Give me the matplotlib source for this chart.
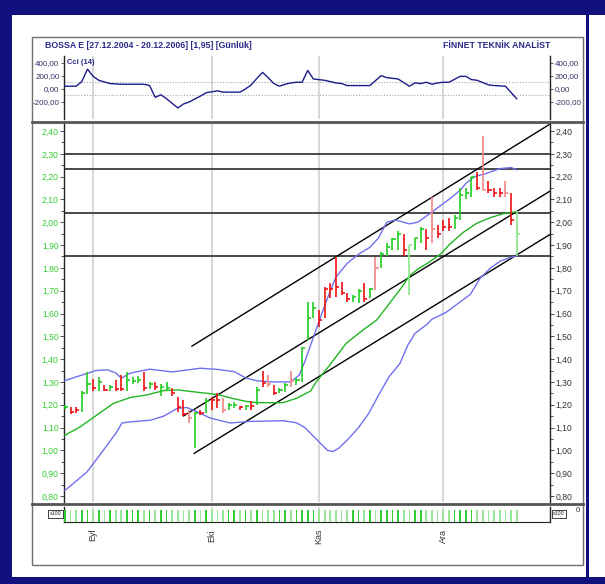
import matplotlib
matplotlib.use('Agg')
import matplotlib.pyplot as plt
from matplotlib.patches import Rectangle
from matplotlib.lines import Line2D
from matplotlib import font_manager as fm

# ---------------- data ----------------
title_left = "BOSSA E [27.12.2004 - 20.12.2006] [1,95] [Günlük]"
title_right = "FİNNET TEKNİK ANALİST"
cci_name = "Cci (14)"

month_idx = [5, 26, 45, 67]
month_labels = ["Eyl", "Eki", "Kas", "Ara"]

high = [1.20, 1.19, 1.19, 1.26, 1.345, 1.315, 1.32, 1.285, 1.285, 1.31,
        1.33, 1.345, 1.32, 1.325, 1.345, 1.30, 1.30, 1.29, 1.30, 1.275,
        1.235, 1.222, 1.178, 1.17, 1.178, 1.229, 1.236, 1.251, 1.229, 1.207,
        1.21, 1.193, 1.20, 1.215, 1.28, 1.346, 1.332, 1.288, 1.273, 1.295,
        1.346, 1.317, 1.454, 1.652, 1.652, 1.615, 1.717, 1.732, 1.849, 1.739,
        1.688, 1.681, 1.706, 1.732, 1.71, 1.849, 1.871, 1.91, 1.93, 1.96,
        1.95, 1.90, 1.93, 1.98, 1.97, 2.11, 1.99, 2.01, 2.02, 2.03,
        2.15, 2.15, 2.20, 2.22, 2.38, 2.18, 2.15, 2.15, 2.18, 2.13, 2.05]
low = [1.18, 1.16, 1.165, 1.17, 1.245, 1.26, 1.26, 1.26, 1.26, 1.26,
       1.26, 1.26, 1.29, 1.295, 1.26, 1.27, 1.265, 1.24, 1.26, 1.24,
       1.17, 1.15, 1.12, 1.01, 1.156, 1.163, 1.178, 1.185, 1.163, 1.178,
       1.185, 1.178, 1.178, 1.178, 1.20, 1.28, 1.28, 1.244, 1.251, 1.258,
       1.28, 1.288, 1.30, 1.484, 1.579, 1.542, 1.579, 1.667, 1.674, 1.681,
       1.652, 1.652, 1.647, 1.652, 1.667, 1.703, 1.798, 1.85, 1.88, 1.88,
       1.85, 1.68, 1.88, 1.91, 1.88, 1.91, 1.93, 1.96, 1.96, 1.97,
       2.01, 2.10, 2.11, 2.14, 2.14, 2.13, 2.11, 2.11, 2.11, 1.99, 1.85]
close = [1.19, 1.17, 1.175, 1.25, 1.29, 1.275, 1.30, 1.265, 1.28, 1.27,
         1.27, 1.31, 1.305, 1.31, 1.275, 1.29, 1.28, 1.28, 1.275, 1.25,
         1.19, 1.16, 1.142, 1.163, 1.163, 1.215, 1.222, 1.222, 1.178, 1.20,
         1.20, 1.188, 1.196, 1.193, 1.266, 1.295, 1.292, 1.251, 1.266, 1.288,
         1.302, 1.31, 1.447, 1.579, 1.623, 1.571, 1.706, 1.706, 1.717, 1.688,
         1.662, 1.671, 1.697, 1.662, 1.706, 1.798, 1.863, 1.89, 1.925, 1.95,
         1.88, 1.90, 1.93, 1.97, 1.93, 1.97, 1.95, 1.98, 1.98, 2.02,
         2.12, 2.13, 2.20, 2.15, 2.14, 2.14, 2.13, 2.13, 2.13, 2.01, 1.95]
bar_kind = ['g', 'r', 'r', 'g', 'g', 'r', 'g', 'r', 'g', 'r',
            'r', 'g', 'g', 'g', 'r', 'g', 'r', 'g', 'g', 'r',
            'r', 'r', 'lr', 'g', 'r', 'g', 'r', 'r', 'lr', 'g',
            'g', 'r', 'g', 'r', 'g', 'r', 'lr', 'r', 'g', 'g',
            'lr', 'g', 'g', 'g', 'g', 'r', 'r', 'r', 'r', 'r',
            'r', 'g', 'g', 'r', 'g', 'lr', 'g', 'g', 'g', 'g',
            'r', 'lg', 'g', 'g', 'r', 'lr', 'r', 'r', 'r', 'g',
            'g', 'g', 'g', 'r', 'lr', 'r', 'r', 'r', 'lr', 'r', 'lg']
volume = [1] * 81

bb_up_i = [0, 3, 5.5, 7.5, 9, 10, 11.5, 15, 19, 24, 27, 30, 32, 34, 37, 40, 41.5,
           42.5, 43.5, 44.5, 45.5, 47, 48, 50, 52, 54, 55.5, 57, 58.5, 61, 62.5,
           65, 68, 70, 71, 72.5, 74.5, 77, 79, 80]
bb_up_v = [1.306, 1.33, 1.35, 1.353, 1.34, 1.316, 1.338, 1.356, 1.344, 1.36, 1.355,
           1.345, 1.318, 1.305, 1.30, 1.30, 1.33, 1.39, 1.46, 1.53, 1.60, 1.70, 1.76,
           1.82, 1.86, 1.89, 1.93, 2.00, 2.01, 1.993, 2.00, 2.045, 2.10, 2.14, 2.17,
           2.20, 2.213, 2.235, 2.24, 2.23]
bb_mid_i = [0, 2.7, 5.6, 8.6, 11.6, 14.5, 17.5, 20, 23.4, 27, 29.3, 32, 34, 38.6, 41,
            43.5, 44.5, 46.9, 49.8, 52.8, 55.2, 57.5, 59.5, 61, 62.5, 64.5, 66.5,
            68.2, 70.5, 72.9, 75.3, 77.6, 80]
bb_mid_v = [1.066, 1.103, 1.154, 1.206, 1.232, 1.243, 1.262, 1.265, 1.255, 1.245,
            1.23, 1.215, 1.209, 1.209, 1.228, 1.26, 1.30, 1.374, 1.469, 1.528, 1.571,
            1.645, 1.71, 1.765, 1.795, 1.825, 1.86, 1.905, 1.955, 1.995, 2.02, 2.037,
            2.046]
bb_low_i = [0, 3.9, 6.8, 9.2, 10.1, 11.6, 15.1, 17.5, 19.9, 21.6, 23.4, 25.7, 27,
            29.3, 32.8, 38.7, 41, 42.5, 44.5, 45.7, 46.5, 47.5, 48.5, 50, 52, 53.8,
            55.5, 57.4, 59.3, 60.7, 62, 64, 65, 67.5, 69.4, 70.5, 71.8, 73.6, 75.4,
            77.1, 78.9, 80]
bb_low_v = [0.824, 0.905, 1.0, 1.081, 1.12, 1.125, 1.132, 1.15, 1.184, 1.188, 1.169,
            1.142, 1.134, 1.12, 1.127, 1.13, 1.121, 1.10, 1.05, 1.02, 1.0, 0.995,
            1.01, 1.045, 1.10, 1.162, 1.24, 1.323, 1.38, 1.46, 1.513, 1.55, 1.575,
            1.605, 1.64, 1.66, 1.684, 1.757, 1.80, 1.83, 1.846, 1.853]

cci_i = [0, 2, 3, 4, 5, 6, 8, 10, 12, 14, 15, 16, 17, 18, 20, 21, 22, 24, 25, 27,
         28, 31, 32, 33, 34, 35, 36, 37, 38, 39, 40, 41, 42, 43, 44, 45, 46, 47, 48,
         49, 50, 52, 54, 56, 57, 59, 61, 62, 63, 64, 65, 66, 67, 68, 70, 71, 72, 73,
         75, 76, 78, 80]
cci_v = [40, 40, 110, 300, 190, 130, 80, 70, 70, 70, 50, -130, -90, -150, -290, -230,
         -200, -110, -60, -30, -50, -50, 0, 60, 160, 250, 170, 80, 40, 70, 90, 100,
         100, 280, 150, 140, 130, 110, 90, 80, 50, 50, 50, 200, 170, 150, 40, 90, 80,
         100, 70, 90, 100, 100, 190, 190, 140, 130, 60, 50, 40, -150]

# trend channel lines: (start index, start price, end index, end price)
channel_lines = [(22.5, 1.457, 86.2, 2.435),
                 (21.0, 1.151, 86.2, 2.141),
                 (22.9, 0.987, 86.2, 1.951)]
levels = [2.30, 2.235, 2.04, 1.85]

price_ticks = [0.80, 0.90, 1.00, 1.10, 1.20, 1.30, 1.40, 1.50, 1.60, 1.70, 1.80,
               1.90, 2.00, 2.10, 2.20, 2.30, 2.40]
price_minor = [0.85, 0.95, 1.05, 1.15, 1.25, 1.35, 1.45, 1.55, 1.65, 1.75, 1.85,
               1.95, 2.05, 2.15, 2.25, 2.35]
cci_ticks = [400, 200, 0, -200]
cci_levels = [100, -100]

# ---------------- style ----------------
NAVY = '#10107e'
TXT_NAVY = '#2a2a88'
COLORS = {'g': '#22cc22', 'lg': '#88e888', 'r': '#ee1111', 'lr': '#f08585'}
VOL_COL = {'g': '#33cc33', 'lg': '#99e699', 'r': '#99e699', 'lr': '#99e699'}


def pick_font():
    for name in ['Liberation Sans Narrow', 'Arial Narrow', 'Liberation Sans']:
        try:
            fm.findfont(fm.FontProperties(family=name), fallback_to_default=False)
            return name
        except Exception:
            pass
    return 'DejaVu Sans'


FONT = pick_font()
plt.rcParams['font.family'] = [FONT, 'DejaVu Sans']

W, H = 605, 584


def rect(x0, y0, x1, y1):
    return [x0 / W, 1 - y1 / H, (x1 - x0) / W, (y1 - y0) / H]


fig = plt.figure(figsize=(W / 100, H / 100), dpi=100)
fig.patch.set_facecolor(NAVY)
fig.add_artist(Rectangle((12 / W, 1 - 577 / H), (586 - 12) / W, (577 - 15) / H,
                         transform=fig.transFigure, facecolor='white',
                         edgecolor='none', zorder=0))
fig.add_artist(Rectangle((589 / W, 1 - 577 / H), (W - 589) / W, (577 - 15) / H,
                         transform=fig.transFigure, facecolor='white',
                         edgecolor='none', zorder=0))
# outer chart frame
fig.add_artist(Rectangle((32 / W, 1 - 565 / H), (583 - 32) / W, (565 - 37) / H,
                         transform=fig.transFigure, facecolor='none',
                         edgecolor='#707070', lw=1.0, zorder=1))

XL = (-0.1, 85.9)

ax_c = fig.add_axes(rect(64.3, 56, 550, 119))
ax_p = fig.add_axes(rect(64.3, 124, 550, 502))
ax_v = fig.add_axes(rect(64.3, 507, 550, 522))

for ax in (ax_c, ax_p, ax_v):
    ax.set_xlim(*XL)
    ax.set_facecolor('none')
    for m in month_idx:
        ax.axvline(m, color='#d4d4d4', lw=1.3, zorder=0)
    for s in ('top', 'bottom'):
        ax.spines[s].set_visible(False)
    for s in ('left', 'right'):
        ax.spines[s].set_color('#222222')
        ax.spines[s].set_linewidth(1.0)

# ---- CCI panel ----
ax_c.set_ylim(-458, 499)
for lv in cci_levels:
    ax_c.axhline(lv, color='#a8a8a8', lw=0.8, ls=(0, (1, 1.5)), zorder=1)
ax_c.plot(cci_i, cci_v, color='#1c1c8a', lw=1.0, zorder=3)
ax_c.set_xticks([])
cci_lab = [f"{v:.2f}".replace('.', ',') for v in cci_ticks]
ax_c.set_yticks(cci_ticks, cci_lab)
ax_c.tick_params(axis='y', which='both', labelsize=5.8, colors='#444444',
                 labelcolor='#333366', length=2.5, width=0.6, pad=1,
                 left=True, right=True, labelleft=True, labelright=True)
ax_c.text(0.006, 0.96, cci_name, transform=ax_c.transAxes, ha='left', va='top',
          fontsize=5.5, fontweight='bold', color=TXT_NAVY)

# ---- price panel ----
ax_p.set_ylim(0.7737, 2.4307)
for lv in levels:
    ax_p.axhline(lv, color='#3a3a3a', lw=1.3, zorder=2)
for (i0, p0, i1, p1) in channel_lines:
    ax_p.plot([i0, i1], [p0, p1], color='black', lw=1.0, zorder=2)
ax_p.plot(bb_up_i, bb_up_v, color='#7070f0', lw=1.0, zorder=3)
ax_p.plot(bb_low_i, bb_low_v, color='#7070f0', lw=1.0, zorder=3)
ax_p.plot(bb_mid_i, bb_mid_v, color='#22b522', lw=1.0, zorder=3)
idx = list(range(len(close)))
cols = [COLORS[k] for k in bar_kind]
ax_p.vlines(idx, low, high, colors=cols, lw=1.2, zorder=4)
ax_p.hlines(close, [i for i in idx], [i + 0.55 for i in idx], colors=cols,
            lw=1.2, zorder=4)
ax_p.set_xticks([])
p_lab = [f"{v:.2f}".replace('.', ',') for v in price_ticks]
ax_p.set_yticks(price_ticks, p_lab)
ax_p.set_yticks(price_minor, minor=True)
ax_p.tick_params(axis='y', which='both', left=True, right=True, labelleft=True,
                 labelright=True, labelsize=6.2, direction='out', colors='#333333',
                 width=0.6)
ax_p.tick_params(axis='y', which='major', length=3, pad=1)
ax_p.tick_params(axis='y', which='minor', length=2)
for t in ax_p.yaxis.get_major_ticks():
    t.label2.set_color('#333333')
    t.label1.set_color('#33cc33')

# ---- volume panel ----
vcols = [VOL_COL[k] for k in bar_kind]
ax_v.bar(idx, volume, width=0.3, color=vcols, zorder=3)
ax_v.set_ylim(0, 1.3)
ax_v.spines['bottom'].set_visible(True)
ax_v.spines['bottom'].set_color('#222222')
ax_v.set_yticks([])
ax_v.set_xticks(month_idx, month_labels, rotation=90)
ax_v.tick_params(axis='x', length=0, pad=5, labelsize=6.5, labelcolor='#333333')
ax_v.text(-0.006, 0.55, 'x100', transform=ax_v.transAxes, fontsize=3.8,
          ha='right', va='center', color='#222222',
          bbox=dict(boxstyle='square,pad=0.25', fc='white', ec='#222222', lw=0.6))
ax_v.text(1.006, 0.55, 'x100', transform=ax_v.transAxes, fontsize=3.8,
          ha='left', va='center', color='#222222',
          bbox=dict(boxstyle='square,pad=0.25', fc='white', ec='#222222', lw=0.6))
ax_v.text(1.052, 0.75, '0', transform=ax_v.transAxes, fontsize=5.5, ha='left',
          va='center', color='#333333')

# separators
for yy in (121.8, 504.2):
    fig.add_artist(Line2D([32 / W, 583 / W], [1 - yy / H, 1 - yy / H],
                          transform=fig.transFigure, color='#555555', lw=2.0))

# titles
fig.text(45 / W, 1 - 46 / H, title_left, ha='left', va='center', fontsize=6.3,
         fontweight='bold', color=TXT_NAVY)
fig.text(550 / W, 1 - 46 / H, title_right, ha='right', va='center', fontsize=6.3,
         fontweight='bold', color=TXT_NAVY)

fig.savefig('out.png', dpi=100, facecolor=fig.get_facecolor())
